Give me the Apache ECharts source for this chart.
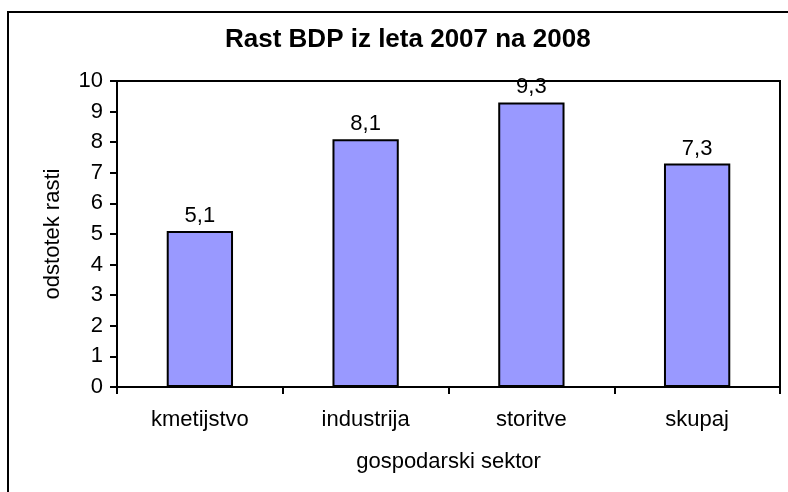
<!DOCTYPE html>
<html>
<head>
	<meta charset="utf-8">
	<title>Rast BDP</title>
	<script type="text/javascript" src="https://cdn.jsdelivr.net/npm/echarts@6/dist/echarts.min.js"></script>
	<style type="text/css">
		html,body{margin:0;padding:0;background:#fff;}
		#chart{width:788px;height:492px;}
	</style>
</head>
<body>
	<div id="chart"></div>
<script type="text/javascript">
	// podatki
	var sektorji = ['kmetijstvo', 'industrija', 'storitve', 'skupaj'];
	var rast = [5.1, 8.1, 9.3, 7.3];
	var yTicks = [0, 10, 1]; // min, max, interval

	var font = 'Liberation Sans, Arial, sans-serif';
	var myChart = echarts.init(document.getElementById('chart'));
	var option = {
		backgroundColor: '#fff',
		animation: false,
		title: {
			text: 'Rast BDP iz leta 2007 na 2008',
			left: 220,
			top: 22,
			textStyle: {fontFamily: font, fontSize: 26, fontWeight: 'bold', color: '#000'}
		},
		graphic: [{
			type: 'rect',
			silent: true,
			shape: {x: 8, y: 12, width: 900, height: 600},
			style: {fill: 'none', stroke: '#000', lineWidth: 2}
		}],
		grid: {
			left: 117, right: 8, top: 81, bottom: 105,
			show: true, borderColor: '#000', borderWidth: 2
		},
		xAxis: {
			type: 'category',
			data: sektorji,
			name: 'gospodarski sektor',
			nameLocation: 'middle',
			nameGap: 64,
			nameTextStyle: {fontFamily: font, fontSize: 22, color: '#000'},
			axisLine: {lineStyle: {color: '#000', width: 2}},
			axisTick: {show: true, length: 7, lineStyle: {color: '#000', width: 2}},
			axisLabel: {fontFamily: font, fontSize: 22, color: '#000', margin: 22},
			splitLine: {show: false}
		},
		yAxis: {
			type: 'value',
			min: yTicks[0],
			max: yTicks[1],
			interval: yTicks[2],
			name: 'odstotek rasti',
			nameLocation: 'middle',
			nameGap: 53,
			nameTextStyle: {fontFamily: font, fontSize: 22, color: '#000'},
			axisLine: {show: true, lineStyle: {color: '#000', width: 2}},
			axisTick: {show: true, length: 7, lineStyle: {color: '#000', width: 2}},
			axisLabel: {fontFamily: font, fontSize: 22, color: '#000', margin: 14},
			splitLine: {show: false}
		},
		series: [{
			type: 'bar',
			data: rast,
			barWidth: '40%',
			itemStyle: {color: '#9999FF', borderColor: '#000', borderWidth: 2},
			label: {
				show: true,
				position: 'top',
				distance: 4,
				fontFamily: font,
				fontSize: 22,
				color: '#000',
				formatter: function(p){ return String(p.value).replace('.', ','); }
			}
		}]
	};
	myChart.setOption(option);
</script>
</body>
</html>
